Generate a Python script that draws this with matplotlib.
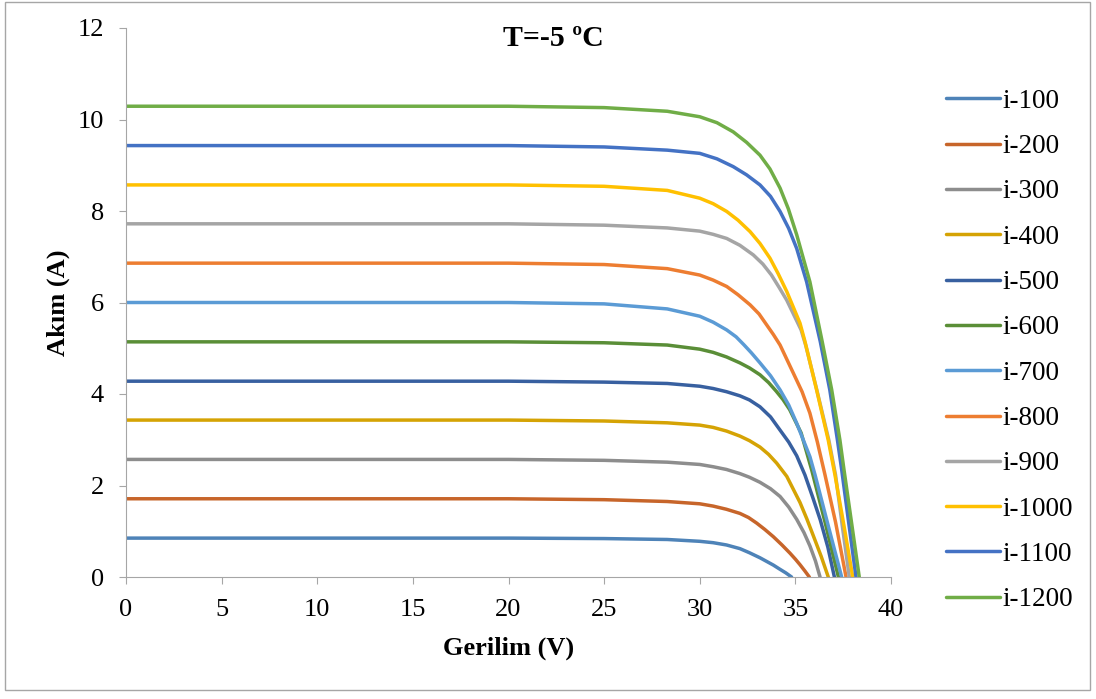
#Import necessary modules
import matplotlib
matplotlib.use('Agg')
import matplotlib.pyplot as plt
from matplotlib.patches import Rectangle

#I-V curve readings (voltage in V, current in A) for each irradiance
V_100 = [0, 20, 25, 28.3, 30, 30.7, 31.4, 32.1, 32.6, 33.15, 33.5, 33.85, 34.15, 34.5, 34.8]
I_100 = [0.85, 0.85, 0.84, 0.82, 0.78, 0.75, 0.70, 0.62, 0.53, 0.42, 0.34, 0.26, 0.18, 0.09, 0]

V_200 = [0, 20, 25, 28.3, 30, 30.7, 31.4, 32.1, 32.55, 32.97, 33.4, 33.85, 34.3, 34.72, 35.0, 35.24, 35.5, 35.73]
I_200 = [1.71, 1.71, 1.69, 1.65, 1.60, 1.55, 1.48, 1.39, 1.30, 1.18, 1.04, 0.88, 0.70, 0.52, 0.39, 0.27, 0.13, 0]

V_300 = [0, 20, 25, 28.3, 30, 30.7, 31.4, 32.1, 32.6, 33.15, 33.7, 34.2, 34.65, 35.07, 35.45, 35.76, 36.05, 36.29]
I_300 = [2.57, 2.57, 2.55, 2.51, 2.46, 2.41, 2.35, 2.26, 2.18, 2.07, 1.93, 1.76, 1.53, 1.26, 0.97, 0.68, 0.35, 0]

V_400 = [0, 20, 25, 28.3, 30, 30.7, 31.4, 32.1, 32.6, 33.15, 33.6, 34.02, 34.55, 35.24, 35.6, 35.94, 36.35, 36.72]
I_400 = [3.43, 3.43, 3.41, 3.37, 3.32, 3.27, 3.19, 3.08, 2.98, 2.84, 2.68, 2.49, 2.20, 1.63, 1.27, 0.90, 0.45, 0]

V_500 = [0, 20, 25, 28.3, 30, 30.7, 31.4, 32.1, 32.6, 33.15, 33.7, 34.2, 34.65, 35.07, 35.5, 35.9, 36.3, 36.7, 37.04]
I_500 = [4.28, 4.28, 4.26, 4.23, 4.17, 4.12, 4.05, 3.96, 3.87, 3.72, 3.50, 3.21, 2.95, 2.65, 2.23, 1.75, 1.25, 0.65, 0]

V_600 = [0, 20, 25, 28.3, 30, 30.7, 31.4, 32.1, 32.6, 33.15, 33.6, 34.0, 34.35, 34.7, 35.3, 35.86, 36.55, 37.25]
I_600 = [5.14, 5.14, 5.12, 5.07, 4.98, 4.91, 4.81, 4.68, 4.57, 4.42, 4.25, 4.06, 3.88, 3.66, 3.15, 2.33, 1.2, 0]

V_700 = [0, 20, 25, 28.3, 30, 30.7, 31.41, 31.9, 32.3, 32.7, 33.15, 33.7, 34.2, 34.65, 35.07, 35.76, 36.03, 36.7, 37.42]
I_700 = [6.0, 6.0, 5.97, 5.86, 5.70, 5.57, 5.40, 5.25, 5.08, 4.90, 4.68, 4.40, 4.09, 3.76, 3.36, 2.63, 2.23, 1.15, 0]

V_800 = [0, 20, 25, 28.3, 30, 30.7, 31.41, 32.0, 32.63, 33.1, 33.5, 33.85, 34.2, 34.9, 35.35, 35.76, 36.15, 36.55, 37.1, 37.65]
I_800 = [6.86, 6.86, 6.83, 6.74, 6.60, 6.49, 6.35, 6.17, 5.95, 5.75, 5.51, 5.30, 5.07, 4.45, 4.05, 3.58, 2.95, 2.23, 1.2, 0]

V_900 = [0, 20, 25, 28.3, 30, 30.7, 31.41, 32.1, 32.8, 33.3, 33.75, 34.15, 34.55, 35.3, 35.55, 36.12, 36.75, 37.1, 37.46, 37.82]
I_900 = [7.72, 7.72, 7.69, 7.63, 7.56, 7.49, 7.40, 7.25, 7.04, 6.84, 6.60, 6.33, 6.05, 5.40, 5.05, 4.09, 2.99, 2.23, 1.1, 0]

V_1000 = [0, 20, 25, 28.3, 30, 30.7, 31.41, 32.0, 32.63, 33.15, 33.67, 34.1, 34.55, 35.24, 35.5, 36.11, 36.72, 37.07, 37.55, 38.0]
I_1000 = [8.57, 8.57, 8.54, 8.45, 8.28, 8.16, 7.99, 7.80, 7.55, 7.29, 6.97, 6.63, 6.24, 5.55, 5.15, 4.09, 2.99, 2.23, 1.1, 0]

V_1100 = [0, 20, 25, 28.3, 30, 30.9, 31.75, 32.45, 33.15, 33.7, 34.2, 34.65, 35.07, 35.59, 36.3, 36.8, 37.2, 37.42, 37.8, 38.17]
I_1100 = [9.43, 9.43, 9.40, 9.33, 9.26, 9.14, 8.97, 8.79, 8.57, 8.32, 7.99, 7.62, 7.18, 6.45, 5.15, 4.09, 2.99, 2.35, 1.15, 0]

V_1200 = [0, 20, 25, 28.3, 30, 30.9, 31.75, 32.45, 33.15, 33.67, 34.2, 34.63, 35.07, 35.76, 36.4, 36.9, 37.33, 37.54, 37.95, 38.34]
I_1200 = [10.29, 10.29, 10.26, 10.18, 10.06, 9.93, 9.73, 9.50, 9.22, 8.92, 8.50, 8.05, 7.48, 6.45, 5.15, 4.09, 2.99, 2.35, 1.15, 0]

labels = ['i-100', 'i-200', 'i-300', 'i-400', 'i-500', 'i-600',
          'i-700', 'i-800', 'i-900', 'i-1000', 'i-1100', 'i-1200']

colors = ['#4E83B8', '#C7652A', '#8D8D8D', '#D5A304', '#3860A0', '#5A8E37',
          '#5B9BD5', '#ED7D31', '#A5A5A5', '#FFC000', '#4472C4', '#70AD47']

volts = [V_100, V_200, V_300, V_400, V_500, V_600,
         V_700, V_800, V_900, V_1000, V_1100, V_1200]
amps = [I_100, I_200, I_300, I_400, I_500, I_600,
        I_700, I_800, I_900, I_1000, I_1100, I_1200]

plt.rcParams['font.family'] = ['Liberation Serif', 'DejaVu Serif']

W, H = 1096, 699

#Creating a figure
fig = plt.figure(figsize = (W/100, H/100), dpi = 100)
ax = fig.add_axes([126/W, 1 - 577/H, 765/W, 549/H])

#Chart area border
fig.patches.append(Rectangle((5/W, 9/H), 1085/W, 688/H,
                             transform = fig.transFigure, fill = False,
                             edgecolor = '#A6A6A6', linewidth = 1))

#Plotting the curves
for v, i, lab, col in zip(volts, amps, labels, colors):
    ax.plot(v, i, color = col, linewidth = 2.5, label = lab,
            solid_capstyle = 'round', solid_joinstyle = 'round')

ax.set_xlim(0, 40)
ax.set_ylim(0, 12)
ax.set_xticks(range(0, 41, 5))
ax.set_yticks(range(0, 13, 2))

#Removing spines
ax.spines['right'].set_color('none')
ax.spines['top'].set_color('none')
ax.spines['left'].set_color('#A6A6A6')
ax.spines['bottom'].set_color('#A6A6A6')
ax.tick_params(direction = 'out', length = 5, color = '#A6A6A6', labelsize = 19)
ax.tick_params(axis = 'x', pad = 11)
ax.tick_params(axis = 'y', pad = 11)

#Putting labels
fig.text(509/W, 1 - 648/H, 'Gerilim (V)', ha = 'center', va = 'center',
         fontsize = 19, fontweight = 'bold')
fig.text(58/W, 1 - 303/H, 'Akım (A)', ha = 'center', va = 'center',
         rotation = 90, fontsize = 19, fontweight = 'bold')
fig.text(553/W, 1 - 39/H, 'T=-5 ºC', ha = 'center', va = 'center',
         fontsize = 21.5, fontweight = 'bold')

ax.legend(loc = 'upper left', bbox_to_anchor = (935/W, 1 - 78/H),
          bbox_transform = fig.transFigure, frameon = False, fontsize = 19.5,
          handlelength = 2.0, handletextpad = 0.1, labelspacing = 0.75,
          borderaxespad = 0)

fig.savefig('out.png', dpi = 100)
